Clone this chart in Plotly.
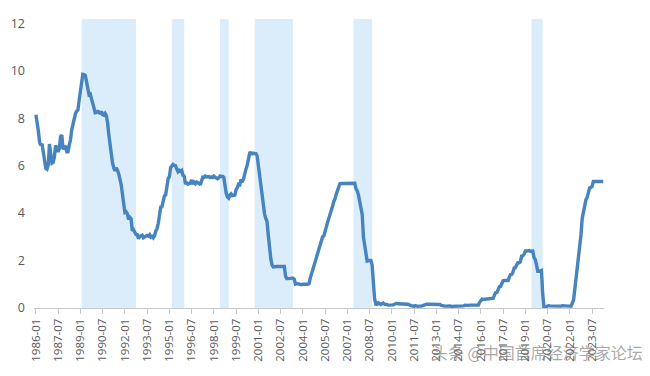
import pandas as pd
import plotly.graph_objects as go

# Monthly federal funds rate (%), 1986-01 .. 2024-04
start_month = "1986-01"
rate = [
    8.14, 7.86, 7.48, 6.99, 6.85, 6.92, 6.56, 6.17, 5.89, 5.85, 6.04, 6.91,   # 1986
    6.43, 6.10, 6.13, 6.37, 6.85, 6.73, 6.58, 6.73, 7.22, 7.29, 6.69, 6.77,   # 1987
    6.83, 6.58, 6.58, 6.87, 7.09, 7.51, 7.75, 8.01, 8.19, 8.30, 8.35, 8.76,   # 1988
    9.12, 9.36, 9.85, 9.84, 9.81, 9.53, 9.24, 8.99, 9.02, 8.84, 8.55, 8.45,   # 1989
    8.23, 8.24, 8.28, 8.26, 8.18, 8.29, 8.15, 8.13, 8.20, 8.11, 7.81, 7.31,   # 1990
    6.91, 6.25, 6.12, 5.91, 5.78, 5.90, 5.82, 5.66, 5.45, 5.21, 4.81, 4.43,   # 1991
    4.03, 4.06, 3.98, 3.73, 3.82, 3.76, 3.25, 3.30, 3.22, 3.10, 3.09, 2.92,   # 1992
    3.02, 3.03, 3.07, 2.96, 3.00, 3.04, 3.06, 3.03, 3.09, 2.99, 3.02, 2.96,   # 1993
    3.05, 3.25, 3.34, 3.56, 4.01, 4.25, 4.26, 4.47, 4.73, 4.76, 5.29, 5.45,   # 1994
    5.53, 5.92, 5.98, 6.05, 6.01, 6.00, 5.85, 5.74, 5.80, 5.76, 5.80, 5.60,   # 1995
    5.56, 5.22, 5.31, 5.22, 5.24, 5.27, 5.40, 5.22, 5.30, 5.24, 5.31, 5.29,   # 1996
    5.25, 5.19, 5.39, 5.51, 5.50, 5.56, 5.52, 5.54, 5.54, 5.50, 5.52, 5.50,   # 1997
    5.56, 5.51, 5.49, 5.45, 5.49, 5.56, 5.54, 5.55, 5.51, 5.07, 4.83, 4.68,   # 1998
    4.63, 4.76, 4.81, 4.74, 4.74, 4.76, 4.99, 5.07, 5.22, 5.20, 5.42, 5.30,   # 1999
    5.45, 5.73, 5.85, 6.02, 6.27, 6.53, 6.54, 6.50, 6.52, 6.51, 6.51, 6.40,   # 2000
    5.98, 5.49, 5.31, 4.80, 4.21, 3.97, 3.77, 3.65, 3.07, 2.49, 2.09, 1.82,   # 2001
    1.73, 1.74, 1.73, 1.75, 1.75, 1.75, 1.73, 1.74, 1.75, 1.75, 1.34, 1.24,   # 2002
    1.24, 1.26, 1.25, 1.26, 1.26, 1.22, 1.01, 1.03, 1.01, 1.01, 1.00, 0.98,   # 2003
    1.00, 1.01, 1.00, 1.00, 1.00, 1.03, 1.26, 1.43, 1.61, 1.76, 1.93, 2.16,   # 2004
    2.28, 2.50, 2.63, 2.79, 3.00, 3.04, 3.26, 3.50, 3.62, 3.78, 4.00, 4.16,   # 2005
    4.29, 4.49, 4.59, 4.79, 4.94, 4.99, 5.24, 5.25, 5.25, 5.25, 5.25, 5.24,   # 2006
    5.25, 5.26, 5.26, 5.25, 5.25, 5.25, 5.26, 5.02, 4.94, 4.76, 4.49, 4.24,   # 2007
    3.94, 2.98, 2.61, 2.28, 1.98, 2.00, 2.01, 2.00, 1.81, 0.97, 0.39, 0.16,   # 2008
    0.15, 0.22, 0.18, 0.15, 0.18, 0.21, 0.16, 0.16, 0.15, 0.12, 0.12, 0.12,   # 2009
    0.11, 0.13, 0.16, 0.20, 0.20, 0.18, 0.18, 0.19, 0.19, 0.19, 0.19, 0.18,   # 2010
    0.17, 0.16, 0.14, 0.10, 0.09, 0.09, 0.07, 0.10, 0.08, 0.07, 0.08, 0.07,   # 2011
    0.08, 0.10, 0.13, 0.14, 0.16, 0.16, 0.16, 0.13, 0.14, 0.16, 0.16, 0.16,   # 2012
    0.14, 0.15, 0.14, 0.15, 0.11, 0.09, 0.09, 0.08, 0.08, 0.09, 0.08, 0.09,   # 2013
    0.07, 0.07, 0.08, 0.09, 0.09, 0.10, 0.09, 0.09, 0.09, 0.09, 0.09, 0.12,   # 2014
    0.11, 0.11, 0.11, 0.12, 0.12, 0.13, 0.13, 0.14, 0.14, 0.12, 0.12, 0.24,   # 2015
    0.34, 0.38, 0.36, 0.37, 0.37, 0.38, 0.39, 0.40, 0.40, 0.40, 0.41, 0.54,   # 2016
    0.65, 0.66, 0.79, 0.90, 0.91, 1.04, 1.15, 1.16, 1.15, 1.15, 1.16, 1.30,   # 2017
    1.41, 1.42, 1.51, 1.69, 1.70, 1.82, 1.91, 1.91, 1.95, 2.19, 2.20, 2.27,   # 2018
    2.40, 2.40, 2.41, 2.42, 2.39, 2.38, 2.40, 2.13, 2.04, 1.83, 1.55, 1.55,   # 2019
    1.55, 1.58, 0.65, 0.05, 0.05, 0.08, 0.09, 0.10, 0.09, 0.09, 0.09, 0.09,   # 2020
    0.09, 0.08, 0.07, 0.07, 0.06, 0.08, 0.10, 0.09, 0.08, 0.08, 0.08, 0.08,   # 2021
    0.08, 0.08, 0.20, 0.33, 0.77, 1.21, 1.68, 2.33, 2.56, 3.08, 3.78, 4.10,   # 2022
    4.33, 4.57, 4.65, 4.83, 5.06, 5.08, 5.12, 5.33, 5.33, 5.33, 5.33, 5.33,   # 2023
    5.33, 5.33, 5.33, 5.33,                                                   # 2024
]
months = pd.date_range(start_month, periods=len(rate), freq="MS")

# Shaded periods
band_start = ["1989-02-01", "1995-03-01", "1998-06-01", "2000-10-01", "2007-06-01", "2019-06-01"]
band_end   = ["1992-10-01", "1996-01-01", "1999-01-01", "2003-05-01", "2008-09-01", "2020-03-01"]

# Axis ticks
tick_labels = ["1986-01", "1987-07", "1989-01", "1990-07", "1992-01", "1993-07", "1995-01",
               "1996-07", "1998-01", "1999-07", "2001-01", "2002-07", "2004-01", "2005-07",
               "2007-01", "2008-07", "2010-01", "2011-07", "2013-01", "2014-07", "2016-01",
               "2017-07", "2019-01", "2020-07", "2022-01", "2023-07"]
y_ticks = [0, 2, 4, 6, 8, 10, 12]

fig = go.Figure()

for s, e in zip(band_start, band_end):
    fig.add_shape(type="rect", xref="x", yref="paper", x0=s, x1=e, y0=0, y1=1,
                  fillcolor="#dbedfb", line=dict(width=0), layer="below")

fig.add_trace(go.Scatter(
    x=months, y=rate, mode="lines",
    line=dict(color="#4783bf", width=3.4),
    hoverinfo="x+y", showlegend=False,
))

fig.add_annotation(
    text="头条 @中国首席经济学家论坛", xref="paper", yref="paper",
    x=1.072, y=-0.152, xanchor="right", yanchor="middle", showarrow=False,
    font=dict(family="Noto Sans CJK SC", size=16, color="rgba(110,110,110,0.6)"),
)

fig.update_layout(
    width=650, height=376,
    margin=dict(l=26, r=54, t=11, b=76),
    paper_bgcolor="white", plot_bgcolor="white",
    font=dict(family="Open Sans", color="#595959"),
    xaxis=dict(
        type="date",
        range=["1985-11-15", "2024-04-20"],
        tickmode="array",
        tickvals=[pd.Timestamp(t + "-01") for t in tick_labels],
        ticktext=tick_labels,
        tickangle=-90,
        tickfont=dict(size=11.5, color="#595959"),
        showgrid=False, zeroline=False,
        showline=True, linecolor="#c8c8c8", linewidth=1,
        ticks="outside", ticklen=5, tickcolor="#c8c8c8",
        automargin=False,
    ),
    yaxis=dict(
        range=[0, 12.18],
        tickvals=y_ticks,
        tickfont=dict(size=12.5, color="#595959"),
        showgrid=False, zeroline=False, showline=False,
        ticks="", ticklabelstandoff=8,
        automargin=False,
    ),
)

fig.write_html("out.html")
